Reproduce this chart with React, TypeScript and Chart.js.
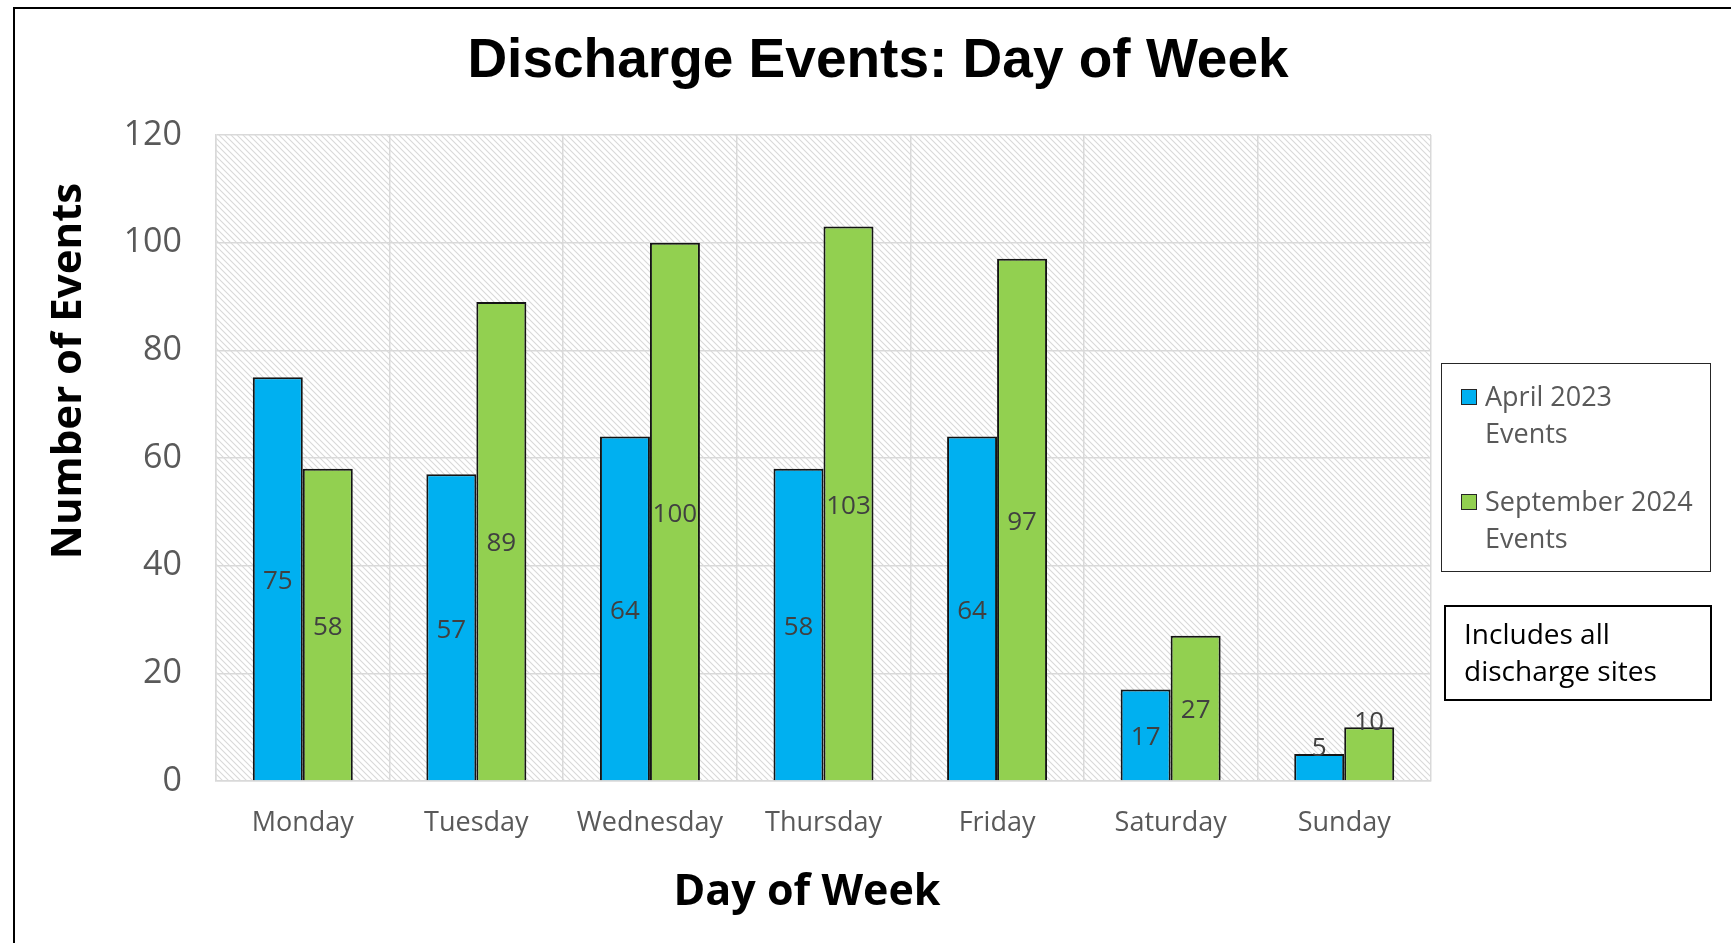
import React, { useEffect, useRef } from "react";
import { Chart, registerables } from "chart.js";

Chart.register(...registerables);

const categories = ["Monday", "Tuesday", "Wednesday", "Thursday", "Friday", "Saturday", "Sunday"];
const april2023 = [75, 57, 64, 58, 64, 17, 5];
const september2024 = [58, 89, 100, 103, 97, 27, 10];
const seriesLabels = [["April 2023", "Events"], ["September 2024", "Events"]];
const seriesColors = ["#00b0f0", "#92d050"];
const yTicks = [0, 20, 40, 60, 80, 100, 120];
const chartTitle = "Discharge Events: Day of Week";
const xTitle = "Day of Week";
const yTitle = "Number of Events";
const noteLines = ["Includes all", "discharge sites"];

const W = 1731;
const H = 943;
const AREA = { left: 216, top: 135, right: 1431, bottom: 781 };

function makeHatch(): CanvasPattern | string {
  const c = document.createElement("canvas");
  const p = 6;
  c.width = p;
  c.height = p;
  const g = c.getContext("2d");
  if (!g) return "#ffffff";
  g.fillStyle = "#ffffff";
  g.fillRect(0, 0, p, p);
  g.strokeStyle = "#d9d9d9";
  g.lineWidth = 1.1;
  g.beginPath();
  g.moveTo(-1, -1);
  g.lineTo(p + 1, p + 1);
  g.moveTo(-1, p - 1);
  g.lineTo(1, p + 1);
  g.moveTo(p - 1, -1);
  g.lineTo(p + 1, 1);
  g.stroke();
  const pat = g.createPattern(c, "repeat");
  return pat || "#ffffff";
}

const FONT = "'Open Sans', 'Noto Sans', sans-serif";

export default function App() {
  const ref = useRef<HTMLCanvasElement | null>(null);

  useEffect(() => {
    document.body.style.margin = "0";
    document.body.style.overflow = "hidden";
    const canvas = ref.current;
    if (!canvas) return;
    const hatch = makeHatch();

    const bgPlugin = {
      id: "hatchBg",
      beforeDraw(chart: any) {
        const { ctx, chartArea } = chart;
        ctx.save();
        ctx.fillStyle = hatch;
        ctx.fillRect(chartArea.left, chartArea.top, chartArea.right - chartArea.left, chartArea.bottom - chartArea.top);
        ctx.restore();
      },
    };

    const labelPlugin = {
      id: "barLabels",
      afterDatasetsDraw(chart: any) {
        const { ctx } = chart;
        ctx.save();
        ctx.font = `26px ${FONT}`;
        ctx.fillStyle = "#404040";
        ctx.textAlign = "center";
        ctx.textBaseline = "middle";
        chart.data.datasets.forEach((ds: any, di: number) => {
          const meta = chart.getDatasetMeta(di);
          meta.data.forEach((bar: any, i: number) => {
            const h = bar.base - bar.y;
            const y = h < 60 ? bar.y - 5 : (bar.y + bar.base) / 2 + 3;
            ctx.fillText(String(ds.data[i]), bar.x, y);
          });
        });
        ctx.restore();
      },
    };

    const textPlugin = {
      id: "texts",
      afterDraw(chart: any) {
        const { ctx } = chart;
        ctx.save();
        ctx.fillStyle = "#000000";
        ctx.textAlign = "center";
        ctx.textBaseline = "alphabetic";
        ctx.font = `bold 55px 'Liberation Sans', Arial, sans-serif`;
        ctx.fillText(chartTitle, 878, 77);
        ctx.font = `bold 43px ${FONT}`;
        ctx.fillText(xTitle, 807, 905);
        ctx.translate(81, 371);
        ctx.rotate(-Math.PI / 2);
        ctx.font = `bold 42px ${FONT}`;
        ctx.fillText(yTitle, 0, 0);
        ctx.restore();
      },
    };

    const chart = new Chart(canvas, {
      type: "bar",
      data: {
        labels: categories,
        datasets: [
          {
            label: seriesLabels[0].join(" "),
            data: april2023,
            backgroundColor: seriesColors[0],
            borderColor: "#141414",
            borderWidth: 2,
            barPercentage: 1,
            categoryPercentage: 0.576,
          },
          {
            label: seriesLabels[1].join(" "),
            data: september2024,
            backgroundColor: seriesColors[1],
            borderColor: "#141414",
            borderWidth: 2,
            barPercentage: 1,
            categoryPercentage: 0.576,
          },
        ],
      },
      options: {
        responsive: false,
        animation: false,
        maintainAspectRatio: false,
        layout: { padding: { left: 0, top: AREA.top, right: W - AREA.right, bottom: 0 } },
        plugins: {
          legend: { display: false },
          title: { display: false },
          tooltip: { enabled: false },
        },
        scales: {
          x: {
            grid: { color: "#d9d9d9", lineWidth: 1.5, drawTicks: false, offset: true },
            border: { color: "#d9d9d9", width: 1.5 },
            ticks: { color: "#595959", font: { family: FONT, size: 27 }, padding: 26 },
            afterFit(scale: any) {
              scale.height = H - AREA.bottom;
            },
          },
          y: {
            min: 0,
            max: 120,
            afterBuildTicks(scale: any) {
              scale.ticks = yTicks.map((v) => ({ value: v }));
            },
            grid: { color: "#d9d9d9", lineWidth: 1.5, drawTicks: false },
            border: { color: "#d9d9d9", width: 1.5 },
            ticks: { color: "#595959", font: { family: FONT, size: 34 }, padding: 34 },
            afterFit(scale: any) {
              scale.width = AREA.left;
            },
          },
        },
      },
      plugins: [bgPlugin, labelPlugin, textPlugin],
    });

    return () => chart.destroy();
  }, []);

  const legendItemTops = [377, 482];

  return (
    <div style={{ position: "relative", width: W, height: H, overflow: "hidden", background: "#fff" }}>
      <canvas ref={ref} width={W} height={H} style={{ position: "absolute", left: 0, top: 0, width: W, height: H }} />
      <div
        style={{
          position: "absolute",
          left: 13,
          top: 7,
          width: 2000,
          height: 1200,
          border: "2px solid #000",
          boxSizing: "border-box",
          pointerEvents: "none",
        }}
      />
      <div
        style={{
          position: "absolute",
          left: 1441,
          top: 363,
          width: 270,
          height: 209,
          border: "1.5px solid #262626",
          boxSizing: "border-box",
          background: "#fff",
        }}
      />
      {seriesLabels.map((lines, i) => (
        <React.Fragment key={i}>
          <div
            style={{
              position: "absolute",
              left: 1461,
              top: legendItemTops[i] + 12,
              width: 16,
              height: 16,
              background: seriesColors[i],
              border: "1.5px solid #262626",
              boxSizing: "border-box",
            }}
          />
          <div
            style={{
              position: "absolute",
              left: 1485,
              top: legendItemTops[i],
              font: `27px ${FONT}`,
              lineHeight: "37px",
              color: "#595959",
              whiteSpace: "nowrap",
            }}
          >
            {lines.map((l, j) => (
              <div key={j}>{l}</div>
            ))}
          </div>
        </React.Fragment>
      ))}
      <div
        style={{
          position: "absolute",
          left: 1444,
          top: 605,
          width: 268,
          height: 96,
          border: "2px solid #000",
          boxSizing: "border-box",
          background: "#fff",
          padding: "8px 0 0 18px",
          font: `28px ${FONT}`,
          lineHeight: "37px",
          color: "#000",
          whiteSpace: "nowrap",
        }}
      >
        {noteLines.map((l, j) => (
          <div key={j}>{l}</div>
        ))}
      </div>
    </div>
  );
}
